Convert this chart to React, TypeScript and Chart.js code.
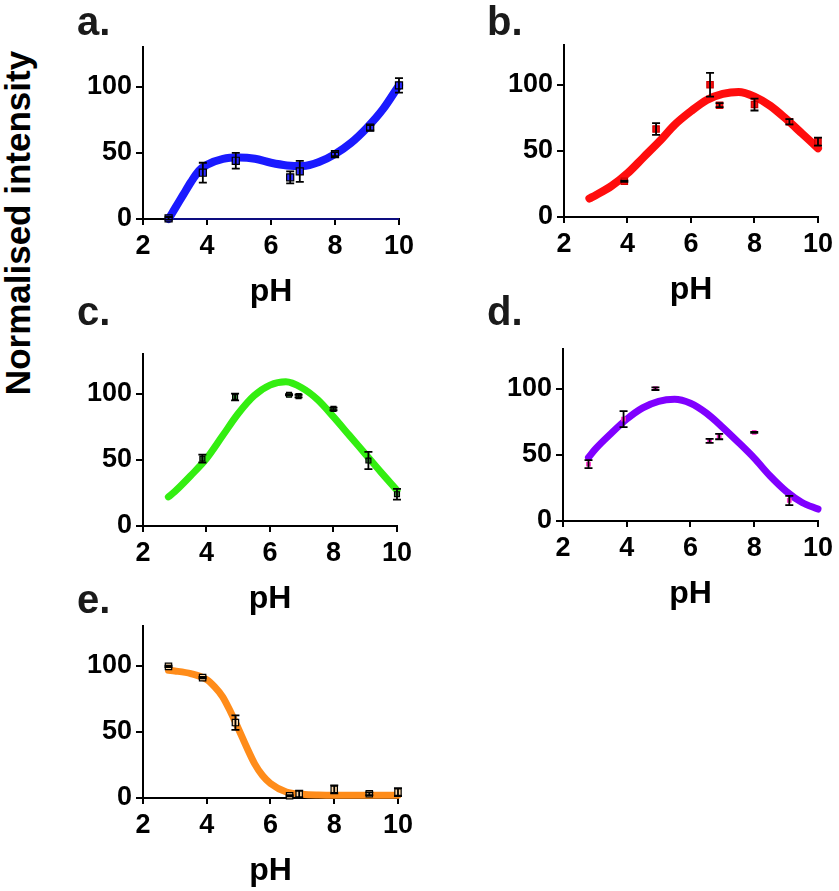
import React, { useEffect, useRef } from "react";
import { Chart, registerables } from "chart.js";

Chart.register(...registerables);

const FONT = "'Liberation Sans', Arial, Helvetica, sans-serif";

// ---- shared axis data ----
const xTicks = [2, 4, 6, 8, 10];
const yTicks = [0, 50, 100];
const X_MIN = 2;
const X_MAX = 10;
const Y_MAX = 130;

// ---- panel a ----
const aPH = [2.8, 3.87, 4.9, 6.6, 6.9, 8.0, 9.1, 10.0];
const aVal = [0.5, 35, 44, 31.5, 36, 49, 69, 101];
const aErr = [1, 7.5, 6, 4.5, 8, 1.5, 2, 5.5];
const aFitPH = [2.8, 3.0, 3.25, 3.5, 3.75, 4.0, 4.5, 5.0, 5.5, 6.0, 6.5, 7.0, 7.5, 8.0, 8.5, 9.0, 9.5, 10.0];
const aFitVal = [0, 8, 18, 28, 36.5, 41, 45.5, 46.5, 45.5, 42.5, 40.5, 40, 43, 49, 57.5, 69, 83, 101];
const aBasePH = [2.8, 10];
const aBaseVal = [0, 0];

// ---- panel b ----
const bPH = [3.9, 4.9, 6.6, 6.9, 8.0, 9.1, 10.0];
const bVal = [27, 66.5, 100, 84.5, 85, 72, 57];
const bErr = [0.5, 4.5, 9, 1.5, 4.5, 2, 3];
const bFitPH = [2.8, 3.0, 3.5, 4.0, 4.5, 5.0, 5.5, 6.0, 6.5, 7.0, 7.5, 8.0, 8.5, 9.0, 9.5, 10.0];
const bFitVal = [14, 16.5, 23.5, 33, 45, 57, 70, 80, 88.5, 93, 94.5, 91, 84, 74, 63, 52];

// ---- panel c ----
const cPH = [3.87, 4.9, 6.6, 6.9, 8.0, 9.1, 10.0];
const cVal = [51, 97.5, 99.2, 98.2, 88.5, 49.5, 24];
const cErr = [3, 2.5, 0.5, 1, 1, 6.5, 4];
const cFitPH = [2.8, 3.0, 3.5, 4.0, 4.5, 5.0, 5.5, 6.0, 6.5, 7.0, 7.5, 8.0, 8.5, 9.0, 9.5, 10.0];
const cFitVal = [22, 26, 38, 51, 68, 85, 98.5, 106.5, 109, 104.5, 95.5, 82.5, 68.5, 54.5, 40.5, 27];

// ---- panel d ----
const dPH = [2.8, 3.9, 4.9, 6.6, 6.9, 8.0, 9.1];
const dVal = [43, 77, 100, 60.5, 63.8, 67, 15.5];
const dErr = [3, 6, 1, 1.5, 2, 0.3, 3.5];
const dFitPH = [2.8, 3.0, 3.5, 4.0, 4.5, 5.0, 5.5, 6.0, 6.5, 7.0, 7.5, 8.0, 8.5, 9.0, 9.5, 10.0];
const dFitVal = [48, 54, 66, 77, 85.5, 90.5, 92, 89, 81.5, 71, 59.5, 47.5, 34, 22.5, 14, 9];

// ---- panel e ----
const ePH = [2.8, 3.87, 4.9, 6.6, 6.9, 8.0, 9.1, 10.0];
const eVal = [99.5, 91, 57, 1.7, 3, 6.5, 3.2, 4.5];
const eErr = [0.5, 0.5, 5.5, 0.5, 2.5, 3, 1, 3];
const eFitPH = [2.8, 3.0, 3.5, 4.0, 4.25, 4.5, 4.75, 5.0, 5.25, 5.5, 5.75, 6.0, 6.5, 7.0, 7.5, 8.0, 9.0, 10.0];
const eFitVal = [96.5, 96, 94, 89.5, 84, 76.5, 65, 52, 38.5, 26, 17, 11, 4.5, 2.8, 2.2, 2, 2, 2];

// ---- layout constants ----
const YW = 75; // fixed y-axis width
const PR = 18; // right padding
const PT = 24; // top padding
const XH = 95; // fixed x-axis height (ticks + title)

type Rect = { left: number; top: number; right: number; bottom: number };
type PanelCfg = {
  letter: string;
  letterLeft: number;
  letterTop: number;
  plot: Rect;
  ph: number[];
  val: number[];
  err: number[];
  fitPh: number[];
  fitVal: number[];
  color: string;
  lineWidth: number;
  markerFill: string;
  markerBorder: string;
  markerRadius: number;
  basePh?: number[];
  baseVal?: number[];
};

const panels: PanelCfg[] = [
  {
    letter: "a.", letterLeft: 77, letterTop: 1,
    plot: { left: 143, top: 47, right: 401, bottom: 219 },
    ph: aPH, val: aVal, err: aErr, fitPh: aFitPH, fitVal: aFitVal,
    color: "#1a1aff", lineWidth: 8, markerFill: "#2a2aff", markerBorder: "#000", markerRadius: 5,
    basePh: aBasePH, baseVal: aBaseVal,
  },
  {
    letter: "b.", letterLeft: 487, letterTop: 1,
    plot: { left: 564, top: 45, right: 820, bottom: 217 },
    ph: bPH, val: bVal, err: bErr, fitPh: bFitPH, fitVal: bFitVal,
    color: "#ff0d0d", lineWidth: 8, markerFill: "#ff1010", markerBorder: "#cc0000", markerRadius: 4.5,
  },
  {
    letter: "c.", letterLeft: 77, letterTop: 290.5,
    plot: { left: 143, top: 354, right: 399, bottom: 526 },
    ph: cPH, val: cVal, err: cErr, fitPh: cFitPH, fitVal: cFitVal,
    color: "#33ee11", lineWidth: 7, markerFill: "#3a8a3a", markerBorder: "#000", markerRadius: 3.5,
  },
  {
    letter: "d.", letterLeft: 487, letterTop: 290.5,
    plot: { left: 563, top: 349, right: 820, bottom: 521 },
    ph: dPH, val: dVal, err: dErr, fitPh: dFitPH, fitVal: dFitVal,
    color: "#8000ff", lineWidth: 7, markerFill: "#ff33cc", markerBorder: "#ff33cc", markerRadius: 2.5,
  },
  {
    letter: "e.", letterLeft: 77, letterTop: 579,
    plot: { left: 143, top: 626, right: 400, bottom: 798 },
    ph: ePH, val: eVal, err: eErr, fitPh: eFitPH, fitVal: eFitVal,
    color: "#ff8c1a", lineWidth: 7, markerFill: "#ffd9a8", markerBorder: "#000", markerRadius: 4.5,
  },
];

function Panel({ cfg }: { cfg: PanelCfg }) {
  const ref = useRef<HTMLCanvasElement>(null);
  const w = cfg.plot.right - cfg.plot.left + YW + PR;
  const h = cfg.plot.bottom - cfg.plot.top + PT + XH;

  useEffect(() => {
    if (!ref.current) return;
    const errPlugin = {
      id: "errbars" + cfg.letter,
      afterDatasetsDraw(chart: any) {
        const meta = chart.getDatasetMeta(0);
        const ys = chart.scales.y;
        const ctx = chart.ctx;
        ctx.save();
        ctx.strokeStyle = "#000";
        ctx.lineWidth = 1.8;
        meta.data.forEach((pt: any, i: number) => {
          const v = cfg.val[i];
          const e = cfg.err[i];
          const x = pt.x;
          const y1 = ys.getPixelForValue(v + e);
          const y2 = ys.getPixelForValue(v - e);
          ctx.beginPath();
          ctx.moveTo(x, y1);
          ctx.lineTo(x, y2);
          ctx.moveTo(x - 4, y1);
          ctx.lineTo(x + 4, y1);
          ctx.moveTo(x - 4, y2);
          ctx.lineTo(x + 4, y2);
          ctx.stroke();
        });
        ctx.restore();
      },
    };

    const datasets: any[] = [
      {
        data: cfg.ph.map((x, i) => ({ x, y: cfg.val[i] })),
        showLine: false,
        pointStyle: "rect",
        pointRadius: cfg.markerRadius,
        pointBackgroundColor: cfg.markerFill,
        pointBorderColor: cfg.markerBorder,
        pointBorderWidth: 1.2,
        clip: false,
      },
      {
        data: cfg.fitPh.map((x, i) => ({ x, y: cfg.fitVal[i] })),
        showLine: true,
        pointRadius: 0,
        borderColor: cfg.color,
        borderWidth: cfg.lineWidth,
        borderCapStyle: "round",
        borderJoinStyle: "round",
        cubicInterpolationMode: "monotone",
        clip: false,
      },
    ];
    if (cfg.basePh && cfg.baseVal) {
      datasets.push({
        data: cfg.basePh.map((x, i) => ({ x, y: cfg.baseVal![i] })),
        showLine: true,
        pointRadius: 0,
        borderColor: cfg.color,
        borderWidth: 1,
        clip: false,
      });
    }

    const tickFont = { family: FONT, size: 27, weight: "bold" as const };
    const chart = new Chart(ref.current, {
      type: "scatter",
      data: { datasets },
      plugins: [errPlugin],
      options: {
        animation: false,
        responsive: false,
        events: [],
        layout: { padding: { left: 0, right: PR, top: PT, bottom: 0 } },
        plugins: { legend: { display: false }, tooltip: { enabled: false } },
        scales: {
          x: {
            type: "linear",
            min: X_MIN,
            max: X_MAX,
            afterBuildTicks: (s: any) => {
              s.ticks = xTicks.map((value) => ({ value }));
            },
            afterFit: (s: any) => {
              s.height = XH;
            },
            ticks: { font: tickFont, color: "#000", padding: 5, maxRotation: 0, autoSkip: false },
            grid: { display: true, drawOnChartArea: false, drawTicks: true, tickLength: 6, color: "#000", lineWidth: 2 },
            border: { display: true, color: "#000", width: 2 },
            title: {
              display: true,
              text: "pH",
              color: "#000",
              font: { family: FONT, size: 32, weight: "bold" },
              padding: { top: 0, bottom: 3 },
            },
          },
          y: {
            type: "linear",
            min: 0,
            max: Y_MAX,
            afterBuildTicks: (s: any) => {
              s.ticks = yTicks.map((value) => ({ value }));
            },
            afterFit: (s: any) => {
              s.width = YW;
            },
            ticks: { font: tickFont, color: "#000", padding: 4 },
            grid: { display: true, drawOnChartArea: false, drawTicks: true, tickLength: 7, color: "#000", lineWidth: 2 },
            border: { display: true, color: "#000", width: 2 },
          },
        },
      } as any,
    });
    return () => chart.destroy();
  }, [cfg]);

  return (
    <canvas
      ref={ref}
      width={w}
      height={h}
      style={{
        position: "absolute",
        left: cfg.plot.left - YW,
        top: cfg.plot.top - PT,
        width: w,
        height: h,
      }}
    />
  );
}

export default function App() {
  return (
    <div
      style={{
        position: "absolute",
        left: 0,
        top: 0,
        width: 839,
        height: 891,
        background: "#fff",
        overflow: "hidden",
        fontFamily: FONT,
      }}
    >
      {panels.map((p) => (
        <Panel key={p.letter} cfg={p} />
      ))}
      {panels.map((p) => (
        <div
          key={"l" + p.letter}
          style={{
            position: "absolute",
            left: p.letterLeft,
            top: p.letterTop,
            fontSize: 40,
            lineHeight: "40px",
            fontWeight: "bold",
            color: "#1a1a1a",
            zIndex: 2,
          }}
        >
          {p.letter}
        </div>
      ))}
      <div
        style={{
          position: "absolute",
          left: 18 - 200,
          top: 222.5 - 20,
          width: 400,
          height: 40,
          lineHeight: "40px",
          fontSize: 35,
          fontWeight: "bold",
          textAlign: "center",
          whiteSpace: "nowrap",
          transform: "rotate(-90deg)",
          color: "#000",
          zIndex: 2,
        }}
      >
        Normalised intensity
      </div>
    </div>
  );
}
